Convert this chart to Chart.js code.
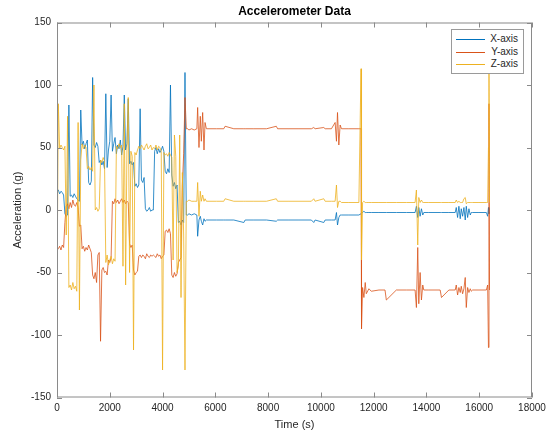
<!DOCTYPE html>
<html>
<head>
<meta charset="utf-8">
<script src="https://cdn.jsdelivr.net/npm/chart.js@4"></script>
<style>
  body { margin: 0; background: #fff; }
  #wrap { position: relative; width: 553px; height: 432px; }
  #legend {
    position: absolute; left: 451px; top: 29px; width: 71px; height: 43px;
    border: 1px solid #9a9a9a; background: #fff;
    font: 10px "Liberation Sans", Arial, sans-serif; color: #262626;
  }
  .row { position: absolute; left: 4px; right: 5px; height: 12px; line-height: 12px; }
  .row span.l { position: absolute; left: 0; top: 6px; width: 29px; border-top: 1px solid; }
  .row span.t { position: absolute; right: 0; top: 0; white-space: nowrap; }
</style>
</head>
<body>
<div id="wrap">
  <canvas id="accelChart" width="553" height="432"></canvas>
  <div id="legend"></div>
</div>
<script>
const ctx = document.getElementById("accelChart").getContext("2d");

// sample times (s)
const time = [
  0, 50, 100, 150, 200, 250, 300, 350, 400, 450, 500, 550, 600, 650, 700, 750, 800, 850, 900, 950,
  1000, 1050, 1100, 1150, 1200, 1250, 1300, 1350, 1400, 1450, 1500, 1550, 1600, 1650, 1700, 1750, 1800, 1850, 1900, 1950,
  2000, 2050, 2100, 2150, 2200, 2250, 2300, 2350, 2400, 2450, 2500, 2550, 2600, 2650, 2700, 2750, 2800, 2850, 2900, 2950,
  3000, 3050, 3100, 3150, 3200, 3250, 3300, 3350, 3400, 3450, 3500, 3550, 3600, 3650, 3700, 3750, 3800, 3850, 3900, 3950,
  4000, 4050, 4100, 4150, 4200, 4250, 4300, 4350, 4400, 4450, 4500, 4550, 4600, 4650, 4700, 4750, 4800, 4850, 4900,
  4950, 5000, 5100, 5200, 5300, 5330, 5380, 5430, 5470, 5520, 5570, 5610, 5660, 6040, 6320, 6370, 6700, 7080, 7130, 7460,
  7940, 8310, 8360, 8790, 9170, 9640, 9730, 9780, 10110, 10160, 10400, 10540, 10590, 10630, 10680, 10730, 10780, 11060, 11440, 11520,
  11540, 11580, 11630, 11680, 11720, 11820, 11910, 12200, 12430, 12480, 12860, 13240, 13570, 13620, 13670, 13710, 13760, 13810, 13860, 13900,
  14090, 14520, 14570, 14850, 15090, 15130, 15180, 15230, 15280, 15320, 15370, 15420, 15470, 15510, 15560, 15610, 15660, 15700, 15750, 15990,
  16270, 16320, 16350, 16370, 16390,
];

const xAxis = [
  15, 16, 13, 15, 14, 12, -3, -5, -4, 84, 11, 12, 10, 13, 11, 9, 8, 7, 80,
  52, 55, 49, 53, 56, 22, 20, 23, 106, 52, 50, 54, 51, 38, 40, 36, 39, 33,
  93, 34, 48, 55, 92, 47, 53, 58, 45, 52, 49, 56, 44, 51, 92, 48, 53, 89,
  37, 39, 36, 38, 19, 21, 18, 20, 81, 24, 22, 26, 1, -1, 0, 2, -1, 0,
  0, 47, 50, 45, 49, 46, 48, 51, 47, 31, 29, 33, 30, 100, 28, 19, 22, 17, 20,
  -10, -9, -12, -8, -10, 110, -4,
  -4, -3, -4, -3, -4, -21, -8, -5, -9, -12, -7, -9, -8, -8, -8, -8, -8, -10, -8, -8,
  -8, -9, -8, -8, -8, -8, -10, -8, -10, -8, -8, -8, -2, -12, -6, -4, -4, -4, -4, -3,
  -2, -2, -1, -2, -2, -2, -2, -2, -2, -2, -2, -2, -2, 3, -6, 2, -5, 1, -4, -2,
  -2, -2, -2, -2, -2, 2, -6, 3, -7, 1, -5, 2, -8, 3, -6, 1, -4, -2, -2, -2,
  -2, -5, 2, -3, -2,
];

const yAxis = [
  -30, -31, -29, -32, -28, -30, -10, 3, 5, 1, 6, 2, 8, 4, 3, 6, 2, -13, -12,
  -31, -29, -33, -30, -32, -28, -31, -34, -52, -55, -50, -58, -36, -34, -105, -48, -46, -50,
  -49, -52, -40, -42, -38, 7, 5, 9, 6, 8, 5, 7, 9, 6, 8, 5, 7, 6,
  -27, -30, -28, -48, -52, -50, -49, -37, -36, -38, -36, -37, -39, -35, -37, -38, -36, -37,
  -36, -37, -38, -35, -37, -36, -39, -37, -36, -17, -16, -18, -15, -19, -52, -54, -50, -53, -51,
  -42, -40, -38, 20, 45, 90, 65,
  65, 64, 65, 64, 65, 82, 50, 75, 55, 78, 48, 70, 65, 65, 65, 67, 65, 65, 65, 65,
  65, 67, 65, 65, 65, 65, 66, 65, 66, 65, 65, 70, 55, 78, 52, 68, 65, 65, 65, 65,
  -95, -62, -70, -58, -67, -63, -65, -64, -64, -72, -64, -64, -64, -78, -30, -75, -50, -72, -60, -64,
  -64, -64, -70, -64, -64, -60, -68, -62, -66, -61, -67, -63, -54, -78, -62, -66, -63, -65, -64, -64,
  -64, -60, -110, 85, -64,
];

const zAxis = [
  -66, 85, 49, 52, 50, 48, 51, -20, 75, -62, -60, -64, -58, -63, -61, -65, 70, -80, 40,
  53, 49, 52, 50, 33, 35, 32, 34, 31, 100, 0, 2, -1, 1, 40, 38, 42, 39,
  -42, -36, -44, -40, -37, -43, -39, -41, 51, 49, 53, 50, 52, -45, 85, -60, 48, 90,
  -50, 47, 43, -112, 46, 44, 48, 51, 49, 52, 50, 48, 51, 53, 49, 50, 52, 48,
  50, 49, 52, 48, 51, 50, 47, -128, 46, 44, 45, 43, 46, 44, 42, -40, 60, 43, -50,
  -45, 60, -70, 30, -20, -128, 7,
  7, 8, 7, 7, 7, 22, -5, 15, 7, 12, 7, 9, 7, 7, 7, 9, 7, 7, 7, 7,
  7, 9, 7, 7, 7, 7, 9, 7, 9, 7, 7, 7, 20, 2, 7, 7, 6, 6, 6, 113,
  -40, 6, 7, 6, 6, 6, 6, 6, 6, 6, 6, 6, 6, 16, -28, 10, 6, 8, 6, 6,
  6, 6, 6, 6, 6, 8, 6, 7, 6, 6, 6, 9, 10, 5, 6, 6, 6, 6, 6, 6,
  6, 6, 50, 110, 6,
];

const seriesNames = ["X-axis", "Y-axis", "Z-axis"];
const seriesColors = ["#0072BD", "#D95319", "#EDB120"];
const xTicks = [0, 2000, 4000, 6000, 8000, 10000, 12000, 14000, 16000, 18000];
const yTicks = [-150, -100, -50, 0, 50, 100, 150];

const toPoints = (vals) => vals.map((v, i) => ({ x: time[i], y: v }));

const font = { family: "'Liberation Sans', Arial, sans-serif", size: 10 };

// matlab style box with inward ticks
const boxTicks = {
  id: "boxTicks",
  afterDatasetsDraw(chart) {
    const { ctx, chartArea: a, scales } = chart;
    ctx.save();
    ctx.strokeStyle = "#8a8a8a";
    ctx.lineWidth = 1;
    ctx.strokeRect(a.left + 0.5, a.top + 0.5, a.right - a.left - 1, a.bottom - a.top - 1);
    ctx.beginPath();
    xTicks.forEach((t) => {
      const px = Math.round(scales.x.getPixelForValue(t)) + 0.5;
      ctx.moveTo(px, a.bottom); ctx.lineTo(px, a.bottom - 5);
      ctx.moveTo(px, a.top); ctx.lineTo(px, a.top + 5);
    });
    yTicks.forEach((t) => {
      const py = Math.round(scales.y.getPixelForValue(t)) + 0.5;
      ctx.moveTo(a.left, py); ctx.lineTo(a.left + 5, py);
      ctx.moveTo(a.right, py); ctx.lineTo(a.right - 5, py);
    });
    ctx.stroke();
    ctx.restore();
  },
};

const data = {
  datasets: [xAxis, yAxis, zAxis].map((vals, i) => ({
    label: seriesNames[i],
    data: toPoints(vals),
    borderColor: seriesColors[i],
    borderWidth: 0.8,
    pointRadius: 0,
    tension: 0,
    order: 2 - i,
  })),
};

const options = {
  responsive: false,
  animation: false,
  layout: { padding: { left: 0, right: 21, top: 0, bottom: 0 } },
  plugins: {
    legend: { display: false },
    tooltip: { enabled: false },
    title: {
      display: true,
      fullSize: false,
      text: "Accelerometer Data",
      color: "#000",
      font: { family: font.family, size: 12, weight: "bold" },
      padding: { top: 4, bottom: 4.1 },
    },
  },
  scales: {
    x: {
      type: "linear",
      min: 0,
      max: 18000,
      afterBuildTicks: (s) => { s.ticks = xTicks.map((v) => ({ value: v })); },
      afterFit: (s) => { s.height = 34.5; },
      grid: { display: false, drawTicks: false, tickLength: 0 },
      border: { display: false },
      ticks: { color: "#262626", font, padding: 5, maxRotation: 0, autoSkip: false, callback: (v) => String(v) },
      title: { display: true, text: "Time (s)", color: "#262626", font: { family: font.family, size: 11 }, padding: { top: 0, bottom: 0 } },
    },
    y: {
      min: -150,
      max: 150,
      afterBuildTicks: (s) => { s.ticks = yTicks.map((v) => ({ value: v })); },
      afterFit: (s) => { s.width = 57; },
      grid: { display: false, drawTicks: false, tickLength: 0 },
      border: { display: false },
      ticks: { color: "#262626", font, padding: 6, callback: (v) => String(v) },
      title: { display: true, text: "Acceleration (g)", color: "#262626", font: { family: font.family, size: 11 }, padding: { top: 11, bottom: 0 } },
    },
  },
};

const accelChart = new Chart(ctx, {
  type: "line",
  data: data,
  options: options,
  plugins: [boxTicks],
});

// legend box like matlab
const legend = document.getElementById("legend");
seriesNames.forEach((name, i) => {
  const row = document.createElement("div");
  row.className = "row";
  row.style.top = (3 + i * 12.5) + "px";
  row.innerHTML = '<span class="l" style="border-color:' + seriesColors[i] + '"></span><span class="t">' + name + "</span>";
  legend.appendChild(row);
});
</script>
</body>
</html>
